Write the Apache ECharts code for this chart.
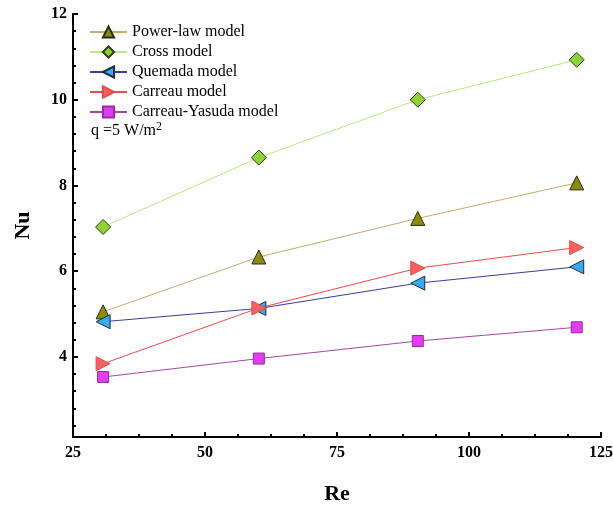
<!DOCTYPE html>
<html><head><meta charset="utf-8">
<script src="https://cdn.jsdelivr.net/npm/echarts@6/dist/echarts.min.js"></script>
<style>html,body{margin:0;padding:0;background:#fff}#c{width:613px;height:507px}</style>
</head><body><div id="c"></div>
<script>
var re = [30.7, 60.2, 90.3, 120.4];
var powerLaw = [5.05, 6.33, 7.23, 8.06];
var cross = [7.03, 8.65, 10.0, 10.93];
var quemada = [4.82, 5.13, 5.72, 6.10];
var carreau = [3.84, 5.14, 6.07, 6.55];
var carreauYasuda = [3.53, 3.96, 4.37, 4.69];
var seriesNames = ['Power-law model','Cross model','Quemada model','Carreau model','Carreau-Yasuda model'];
var yMajor = [4, 6, 8, 10, 12];
var yMinor = [2.4, 2.8, 3.2, 3.6, 4.4, 4.8, 5.2, 5.6, 6.4, 6.8, 7.2, 7.6, 8.4, 8.8, 9.2, 9.6, 10.4, 10.8, 11.2, 11.6];
var annotationBase = 'q =5 W/m';
var annotationSup = '2';

function pts(ys){ return re.map(function(x,i){ return [x, ys[i]]; }); }
var FONT = '"Liberation Serif", "Times New Roman", serif';
var chart = echarts.init(document.getElementById('c'), null, {renderer:'canvas'});
function s(name, data, lineColor, symbol, rot, fill, border, size){
  return {name:name, type:'line', data:pts(data), symbol:symbol, symbolSize:size, symbolRotate:rot,
    lineStyle:{color:lineColor, width:1}, itemStyle:{color:fill, borderColor:border, borderWidth:1},
    emphasis:{disabled:true}, z:3, animation:false};
}
var axisLbl = {fontFamily:FONT, fontWeight:'bold', fontSize:16, color:'#000'};
chart.setOption({
  animation:false,
  grid:{left:73, top:14, right:12, bottom:70, containLabel:false, outerBoundsMode:'none'},
  legend:{
    orient:'vertical', left:84, top:19, itemWidth:37, itemHeight:14, itemGap:4,
    textStyle:{fontFamily:FONT, fontSize:16, color:'#000'},
    data:seriesNames
  },
  graphic:[{type:'text', left:91, top:121, style:{
    text:'{a|' + annotationBase + '}{s|' + annotationSup + '}',
    rich:{
      a:{fontFamily:FONT, fontSize:16, lineHeight:18, verticalAlign:'bottom', fill:'#000'},
      s:{fontFamily:FONT, fontSize:12, lineHeight:18, verticalAlign:'top', fill:'#000'}
    }
  }}],
  xAxis:{type:'value', min:25, max:125, interval:25,
    name:'Re', nameLocation:'middle', nameGap:46,
    nameTextStyle:{fontFamily:FONT, fontWeight:'bold', fontSize:22, color:'#000'},
    axisLine:{show:true, lineStyle:{color:'#000', width:2}},
    axisTick:{show:true, inside:true, length:5, lineStyle:{color:'#000', width:2}},
    minorTick:{show:true, splitNumber:4, length:3, lineStyle:{color:'#000', width:2}},
    axisLabel:Object.assign({margin:8}, axisLbl),
    splitLine:{show:false}
  },
  yAxis:[{type:'value', min:2.13, max:12,
    name:'Nu', nameLocation:'middle', nameGap:39,
    nameTextStyle:{fontFamily:FONT, fontWeight:'bold', fontSize:22, color:'#000'},
    axisLine:{show:true, lineStyle:{color:'#000', width:2}},
    axisTick:{show:true, inside:true, length:5, customValues:yMajor, lineStyle:{color:'#000', width:2}},
    axisLabel:Object.assign({margin:6, customValues:yMajor}, axisLbl),
    splitLine:{show:false}
  },{type:'value', min:2.13, max:12, position:'left',
    axisLine:{show:false},
    axisTick:{show:true, inside:true, length:3, customValues:yMinor, lineStyle:{color:'#000', width:2}},
    axisLabel:{show:false}, splitLine:{show:false}
  }],
  series:[
    s(seriesNames[0], powerLaw, '#c9a86a', 'triangle', 0, '#8b8a12', '#2b2b10', 14),
    s(seriesNames[1], cross, '#b8e882', 'diamond', 0, '#8ed236', '#2e3a1a', 15),
    s(seriesNames[2], quemada, '#3b3d98', 'triangle', 90, '#3aa9ee', '#1e2e44', 14),
    s(seriesNames[3], carreau, '#e84a4a', 'triangle', -90, '#f26262', '#e84a4a', 14),
    s(seriesNames[4], carreauYasuda, '#a646a6', 'rect', 0, '#e03ef0', '#9a2aa0', 11)
  ]
});
</script></body></html>
